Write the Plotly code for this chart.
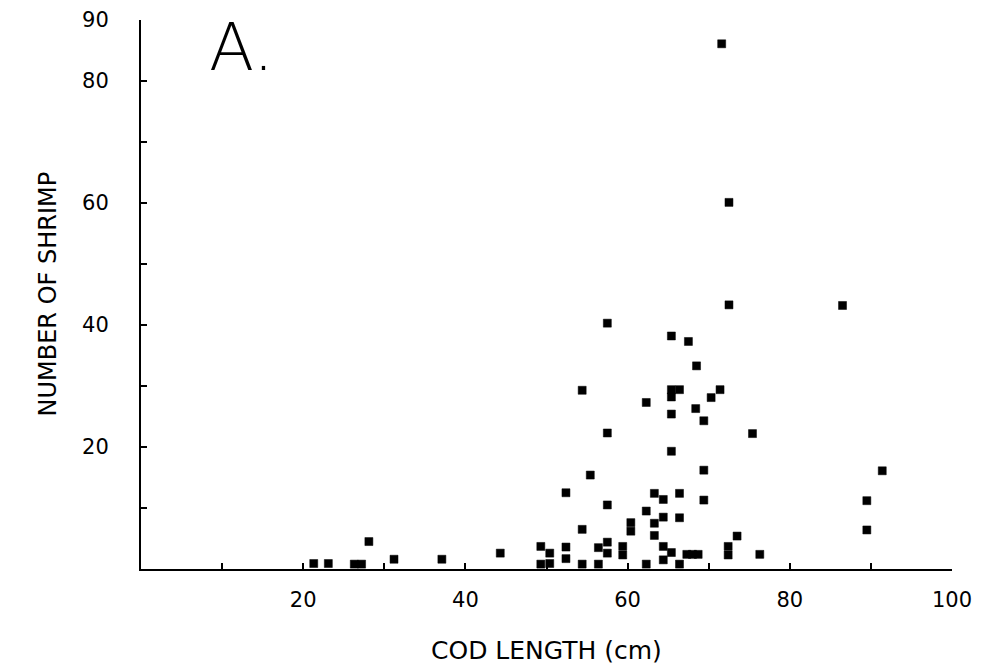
import plotly.graph_objects as go

# Cod length (cm) and number of shrimp found
cod_length = [
    21.3, 23.1, 26.3, 27.2, 28.1, 31.2, 37.1, 44.3,
    49.3, 50.4, 49.3, 50.4,
    52.4, 52.4, 52.4,
    54.4, 54.4, 54.4,
    55.4,
    56.4, 56.4,
    57.5, 57.5, 57.5, 57.5, 57.5,
    59.4, 59.4,
    60.4, 60.4,
    62.3, 62.3, 62.3,
    63.3, 63.3, 63.3,
    64.4, 64.4, 64.4, 64.4,
    65.4, 65.4, 65.4, 65.4, 65.4, 65.4,
    66.4, 66.4, 66.4, 66.4,
    67.5, 67.3, 68.0, 68.7,
    68.5, 68.4,
    69.4, 69.4, 69.4,
    70.3, 71.4, 71.6,
    72.5, 72.5, 72.4, 72.4,
    73.5, 75.4, 76.3,
    86.5, 89.5, 89.5, 91.4,
]
shrimp_count = [
    0.9, 0.9, 0.8, 0.8, 4.5, 1.6, 1.6, 2.6,
    3.7, 2.6, 0.8, 0.9,
    12.5, 3.6, 1.7,
    29.3, 6.5, 0.8,
    15.4,
    0.8, 3.5,
    40.3, 22.3, 10.5, 4.4, 2.6,
    3.7, 2.3,
    7.6, 6.2,
    27.3, 9.5, 0.8,
    12.4, 7.5, 5.5,
    11.4, 8.5, 3.7, 1.5,
    38.2, 29.4, 28.2, 25.4, 19.3, 2.7,
    29.4, 12.4, 8.4, 0.8,
    37.3, 2.4, 2.4, 2.4,
    33.3, 26.3,
    24.3, 16.2, 11.3,
    28.1, 29.4, 86.1,
    60.1, 43.3, 3.7, 2.3,
    5.4, 22.2, 2.4,
    43.2, 11.2, 6.4, 16.1,
]

x_tickvals = [0, 10, 20, 30, 40, 50, 60, 70, 80, 90, 100]
x_ticktext = ["", "", "20", "", "40", "", "60", "", "80", "", "100"]
y_tickvals = [0, 10, 20, 30, 40, 50, 60, 70, 80, 90]
y_ticktext = ["", "", "20", "", "40", "", "60", "", "80", "90"]

FONT = "DejaVu Sans"

fig = go.Figure()
fig.add_trace(go.Scatter(
    x=cod_length, y=shrimp_count, mode="markers",
    marker=dict(symbol="square", size=8, color="black", line=dict(width=0.5, color="black")),
    showlegend=False, cliponaxis=False,
))

fig.update_layout(
    width=974, height=656,
    margin=dict(l=133, r=30, t=12, b=95),
    paper_bgcolor="white", plot_bgcolor="white",
    font=dict(family=FONT, color="black", size=18),
    xaxis=dict(
        range=[0, 100], showgrid=False, zeroline=False, automargin=False,
        showline=True, linecolor="black", linewidth=2,
        ticks="inside", ticklen=6, tickwidth=1.5, tickcolor="black",
        tickvals=x_tickvals, ticktext=x_ticktext,
        ticklabelstandoff=11,
        tickfont=dict(family=FONT, size=21),
    ),
    yaxis=dict(
        range=[0, 90], showgrid=False, zeroline=False, automargin=False,
        showline=True, linecolor="black", linewidth=2,
        ticks="inside", ticklen=6, tickwidth=1.5, tickcolor="black",
        tickvals=y_tickvals, ticktext=y_ticktext,
        ticklabelstandoff=26,
        tickfont=dict(family=FONT, size=21),
    ),
    annotations=[
        dict(text="COD LENGTH (cm)", xref="paper", yref="paper", x=0.5, y=0,
             yshift=-81, xanchor="center", yanchor="middle", showarrow=False,
             font=dict(family=FONT, size=25)),
        dict(text="NUMBER OF SHRIMP", xref="paper", yref="paper", x=0, y=0.5,
             xshift=-94, xanchor="center", yanchor="middle", textangle=-90,
             showarrow=False, font=dict(family=FONT, size=24)),
        dict(text="A.", xref="paper", yref="paper", x=0.081, y=1.0,
             yshift=12, xanchor="left", yanchor="top", showarrow=False,
             height=76, valign="bottom",
             font=dict(family=FONT, size=66, weight=300)),
    ],
)

fig.write_html("out.html")
